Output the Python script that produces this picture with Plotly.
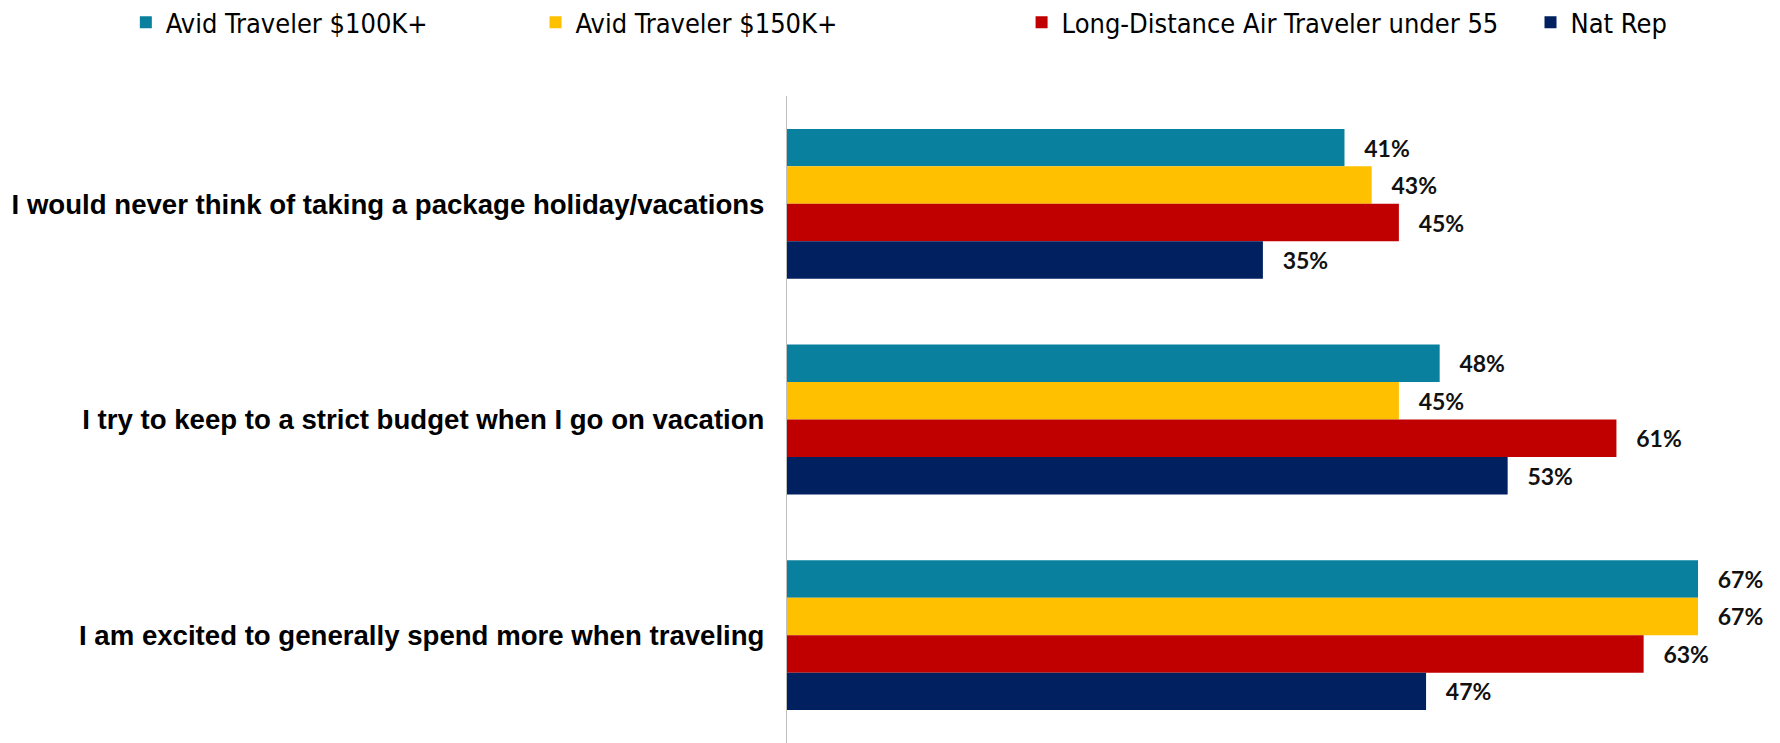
import plotly.graph_objects as go

# data
statements = [
    "I would never think of taking a package holiday/vacations",
    "I try to keep to a strict budget when I go on vacation",
    "I am excited to generally spend more when traveling",
]
avid_100k = [41, 48, 67]
avid_150k = [43, 45, 67]
long_distance_u55 = [45, 61, 63]
nat_rep = [35, 53, 47]

# name, values, colour, legend id, legend x (fraction of figure width)
series = [
    ("Avid Traveler $100K+", avid_100k, "#08809E", "legend", 0.0665),
    ("Avid Traveler $150K+", avid_150k, "#FFC000", "legend2", 0.2977),
    ("Long-Distance Air Traveler under 55", long_distance_u55, "#C00000", "legend3", 0.5720),
    ("Nat Rep", nat_rep, "#002060", "legend4", 0.8592),
]

fig = go.Figure()
for name, vals, color, leg, _ in series:
    fig.add_trace(go.Bar(
        y=statements,
        x=vals,
        name=name,
        orientation="h",
        marker=dict(color=color, line=dict(width=0)),
        text=[f"\u00a0\u00a0\u00a0{v}%" for v in vals],
        textposition="outside",
        constraintext="none",
        cliponaxis=False,
        textfont=dict(family="Lato", size=23, color="#111111", weight="bold"),
        legend=leg,
    ))

legend_font = dict(family="Liberation Sans Narrow, DejaVu Sans Condensed, Arial Narrow, sans-serif",
                   size=27, color="#000000")
# one legend per series so each entry can sit where it does in the original
layout_legends = {}
for name, vals, color, leg, xpos in series:
    layout_legends[leg] = dict(
        x=xpos, y=0.98, xref="container", yref="container",
        xanchor="left", yanchor="middle",
        orientation="h", font=legend_font,
        bgcolor="rgba(0,0,0,0)", itemwidth=30,
    )

# page body has an 8px margin, so the figure is 8px smaller than the window
fig.update_layout(
    width=1772,
    height=735,
    showlegend=True,
    barmode="group",
    bargap=0.305,
    bargroupgap=0,
    plot_bgcolor="white",
    paper_bgcolor="white",
    margin=dict(l=779, r=14, t=88, b=0),
    xaxis=dict(
        range=[0, 72],
        visible=False,
        showgrid=False,
        zeroline=False,
    ),
    yaxis=dict(
        autorange="reversed",
        showline=True,
        linecolor="#BFBFBF",
        linewidth=1,
        showgrid=False,
        ticks="",
        ticklabelstandoff=16,
        automargin=False,
        tickfont=dict(family="Liberation Sans, Arial, sans-serif", size=27.6, color="#000000", weight="bold"),
    ),
    **layout_legends,
)

fig.write_html("out.html")
